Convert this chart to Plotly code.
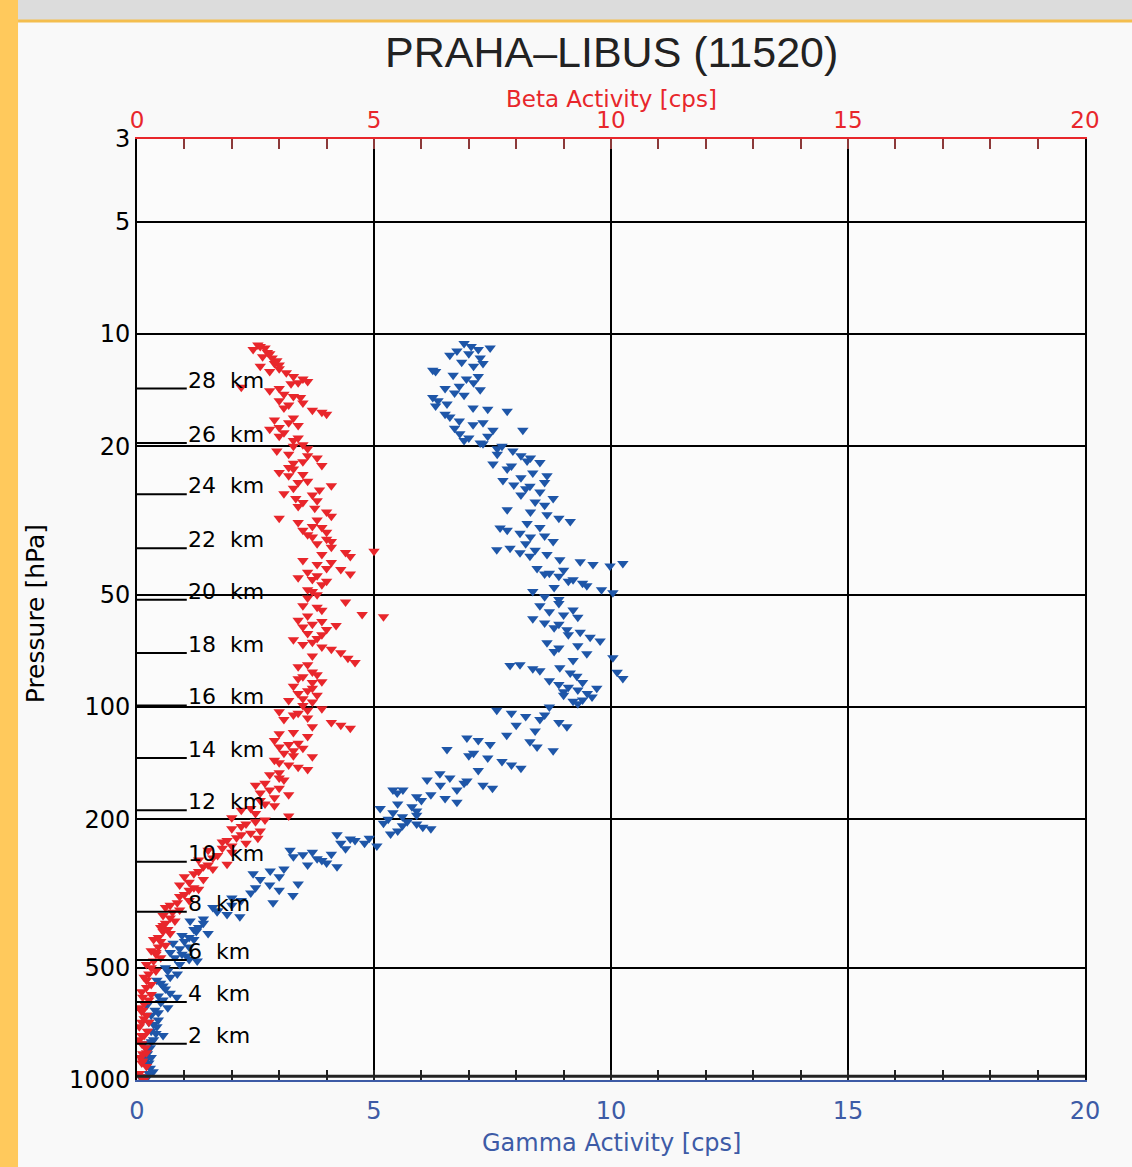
import math
import plotly.graph_objects as go

# ---------------- data ----------------
gamma_pressure = [
    10.6, 10.8, 10.9, 11.1, 11.3, 11.6, 11.9, 12.2, 12.5, 12.6,
    12.9, 13.2, 13.5, 13.8, 14.1, 14.4, 14.8, 15.1, 15.4, 15.6,
    15.8, 15.9, 16.1, 16.7, 17.1, 17.5, 17.9, 18.1, 18.1, 18.5,
    19.0, 19.6, 19.7, 20.3, 20.6, 21.2, 21.9, 22.1, 22.3, 23.0,
    23.6, 24.0, 24.7, 25.4, 25.6, 26.5, 27.6, 28.2, 29.6, 30.5,
    31.2, 31.8, 32.2, 33.1, 33.6, 34.2, 35.0, 36.0, 37.9, 37.5,
    38.6, 39.4, 39.0, 40.3, 40.8, 41.5, 41.9, 41.2, 42.5, 43.8,
    44.6, 45.6, 46.6, 47.3, 48.5, 49.4, 49.0, 50.6, 52.8, 54.9,
    56.7, 58.0, 59.5, 61.3, 62.1, 63.0, 65.0, 66.5, 67.3, 69.5,
    72.0, 73.8, 77.4, 77.0, 79.0, 80.0, 78.5, 81.0, 82.7, 80.7,
    83.8, 85.0, 87.0, 88.5, 90.0, 92.0, 94.0, 95.8, 96.5, 91.0,
    102, 104, 106, 108, 110, 113, 121, 123, 126, 124,
    128, 130, 133, 137, 140, 143, 146, 131, 151, 155,
    158, 162, 165, 157, 162, 167, 167, 167, 170, 172,
    176, 180, 187, 192, 197, 203, 206, 210, 215, 219,
    220, 226, 232, 236, 240, 242, 249, 255, 262, 268,
    275, 285, 280, 290, 300, 310, 320, 335, 345, 352,
    360, 365, 375, 390, 405, 430, 445, 465, 480, 540,
    560, 585, 600, 630, 670, 720, 760, 800, 880, 950,
    410, 425, 455, 500, 520, 620, 650, 700, 740, 780,
    820, 860, 900, 980, 1000, 330, 340, 315, 298, 258,
    195, 200, 225, 212, 205, 185, 178, 232, 248, 265,
    354, 370, 395, 415, 470, 510, 550, 690, 850, 930,
    11.0, 11.4, 12.0, 13.0, 14.0, 14.6, 16.4, 17.3, 18.8, 19.3,
    20.0, 21.0, 21.5, 22.6, 24.3, 25.0, 26.0, 27.0, 28.8, 30.0,
    33.0, 34.8, 36.5, 38.0, 43.0, 44.0, 46.0, 47.8, 51.5, 53.5,
    55.5, 57.5, 60.0, 64.0, 68.5, 71.0, 75.0, 86.0, 89.0, 93.0,
    98.0, 100, 105, 112, 116, 119, 135, 148, 160, 174,
    182, 190, 208, 228, 245, 252, 272, 305, 325, 380,
    400, 420, 440, 460, 490, 530, 570, 610, 660, 710,
    750, 790, 830, 870, 910, 960, 990, 640, 595, 475,
]
gamma_cps = [
    6.90, 7.05, 7.45, 6.75, 7.00, 7.24, 6.85, 7.10, 6.24, 6.30,
    6.67, 6.95, 7.10, 6.80, 7.24, 6.70, 6.24, 6.35, 6.54, 6.30,
    7.09, 7.40, 7.81, 6.60, 6.80, 7.09, 6.70, 7.51, 8.14, 6.81,
    7.00, 7.24, 7.30, 7.60, 7.93, 8.10, 8.23, 8.50, 7.51, 7.81,
    8.35, 8.65, 7.72, 7.95, 8.29, 8.50, 8.78, 8.40, 7.81, 8.65,
    8.90, 9.14, 8.23, 7.66, 7.81, 8.08, 8.30, 8.78, 7.59, 7.87,
    8.08, 8.29, 8.65, 8.92, 9.35, 9.62, 9.98, 10.25, 8.44, 8.70,
    8.90, 9.20, 9.40, 9.49, 9.80, 10.04, 8.35, 8.60, 8.90, 9.20,
    9.00, 8.35, 8.60, 8.80, 9.07, 9.35, 9.56, 9.77, 8.65, 8.90,
    9.49, 10.04, 7.87, 8.08, 8.35, 8.50, 8.92, 9.14, 9.28, 10.13,
    10.25, 8.70, 8.90, 9.10, 9.30, 9.50, 9.60, 9.40, 9.20, 9.00,
    7.59, 7.90, 8.20, 8.50, 8.90, 9.07, 6.96, 7.20, 7.45, 8.29,
    8.44, 6.54, 7.10, 7.40, 7.70, 7.90, 8.10, 8.78, 6.39, 6.60,
    6.96, 7.30, 7.50, 6.12, 6.40, 6.75, 5.40, 5.61, 5.49, 6.20,
    6.50, 6.75, 5.13, 5.40, 5.60, 5.70, 5.90, 6.03, 5.50, 5.35,
    4.22, 4.50, 4.80, 5.06, 4.40, 3.23, 3.50, 3.80, 4.00, 4.22,
    2.81, 3.00, 2.45, 2.60, 2.80, 3.00, 3.29, 2.87, 1.60, 1.70,
    1.90, 2.17, 1.12, 1.30, 1.50, 0.76, 0.90, 1.05, 1.27, 0.42,
    0.55, 0.70, 0.84, 0.21, 0.30, 0.42, 0.55, 0.13, 0.20, 0.34,
    0.95, 1.00, 0.70, 0.60, 0.85, 0.50, 0.38, 0.25, 0.30, 0.35,
    0.28, 0.15, 0.25, 0.18, 0.12, 2.20, 2.00, 2.40, 3.40, 3.90,
    5.90, 5.30, 4.90, 6.20, 5.20, 5.80, 6.00, 4.30, 4.10, 3.60,
    1.69, 1.40, 1.20, 1.10, 0.80, 0.65, 0.50, 0.45, 0.22, 0.28,
    7.20, 6.60, 7.30, 7.20, 6.50, 6.90, 6.50, 7.30, 7.40, 6.90,
    7.70, 7.60, 8.30, 7.90, 8.10, 8.60, 8.20, 8.10, 8.60, 8.30,
    8.50, 8.60, 8.20, 8.40, 9.00, 8.60, 9.10, 8.80, 8.90, 8.50,
    8.70, 9.30, 8.90, 9.10, 9.30, 8.80, 9.20, 9.40, 9.70, 9.00,
    9.30, 8.70, 8.60, 8.00, 8.40, 7.80, 7.00, 7.20, 6.90, 5.90,
    5.50, 5.90, 5.60, 4.60, 3.70, 3.30, 3.10, 2.50, 2.00, 1.40,
    1.25, 1.20, 1.10, 0.95, 0.90, 0.70, 0.60, 0.55, 0.45, 0.35,
    0.40, 0.30, 0.22, 0.30, 0.20, 0.25, 0.20, 0.65, 0.45, 1.10,
]

beta_pressure = [
    10.7, 10.9, 11.0, 11.3, 11.5, 11.8, 12.0, 12.4, 12.7, 13.0,
    13.2, 13.4, 13.6, 13.9, 14.2, 14.5, 14.8, 15.1, 16.0, 16.2,
    16.4, 17.0, 17.3, 17.6, 18.0, 18.4, 19.3, 19.8, 20.3, 20.6,
    21.0, 21.5, 22.0, 22.5, 23.0, 23.5, 24.0, 24.8, 25.5, 26.2,
    26.8, 27.6, 28.3, 29.3, 30.0, 30.8, 31.2, 32.0, 32.8, 33.6,
    34.5, 35.5, 36.5, 37.3, 38.5, 38.2, 39.5, 40.5, 41.5, 42.5,
    43.5, 42.8, 44.0, 45.5, 47.0, 48.5, 50.0, 52.3, 53.5, 55.0,
    56.5, 57.3, 58.5, 60.0, 62.0, 63.5, 65.5, 68.0, 70.0, 71.5,
    74.0, 76.0, 78.0, 80.5, 83.0, 85.5, 88.0, 90.5, 93.0, 96.0,
    99, 101, 103, 105, 107, 110, 112, 114, 117, 120,
    123, 126, 129, 133, 136, 139, 143, 147, 152, 157,
    162, 167, 172, 178, 184, 189, 193, 196, 201, 206,
    212, 218, 224, 230, 236, 242, 250, 257, 264, 272,
    280, 290, 300, 308, 318, 330, 340, 350, 362, 375,
    390, 405, 420, 435, 450, 470, 490, 510, 530, 555,
    580, 610, 640, 670, 700, 740, 780, 820, 870, 920,
    960, 1000, 265, 285, 310, 345, 395, 440, 600, 700,
    12.2, 15.5, 18.8, 22.8, 27.0, 34.0, 45.0, 60.5, 66.0, 86.0,
    95.0, 108, 131, 150, 175, 198, 215, 245, 225, 232,
    380, 415, 460, 500, 540, 650, 760, 850, 900, 980,
    10.8, 11.2, 11.6, 12.1, 12.6, 13.5, 14.0, 14.7, 15.3, 15.8,
    16.8, 17.8, 19.0, 20.0, 21.2, 22.2, 23.8, 25.0, 25.9, 28.0,
    29.0, 31.5, 33.0, 35.0, 36.0, 39.0, 41.0, 44.5, 46.0, 49.0,
    51.0, 54.0, 57.0, 59.0, 61.0, 64.0, 67.0, 69.0, 73.0, 77.0,
    82.0, 84.0, 89.0, 92.0, 97.0, 102, 104, 113, 118, 125,
    128, 135, 141, 145, 155, 160, 165, 170, 182, 187,
    203, 209, 220, 228, 239, 254, 268, 276, 295, 305,
    322, 335, 355, 368, 385, 400, 425, 455, 480, 520,
    565, 590, 625, 655, 685, 720, 760, 800, 845, 890,
]
beta_cps = [
    2.55, 2.70, 2.45, 2.80, 2.65, 2.95, 2.90, 3.00, 3.15, 3.30,
    3.50, 3.60, 3.25, 2.20, 2.80, 3.10, 3.45, 3.00, 3.70, 3.90,
    4.00, 2.90, 3.20, 3.40, 2.80, 3.10, 3.30, 3.50, 3.60, 2.95,
    3.20, 3.80, 3.50, 3.90, 3.30, 3.00, 3.20, 3.60, 4.10, 3.85,
    3.10, 3.35, 3.50, 3.75, 4.00, 4.10, 3.00, 3.40, 3.70, 3.50,
    3.60, 4.00, 3.80, 4.10, 4.40, 5.00, 4.50, 3.50, 3.80, 4.00,
    3.60, 4.30, 4.50, 3.70, 3.90, 3.60, 3.80, 4.40, 3.50, 3.90,
    4.75, 5.20, 3.40, 3.70, 4.00, 3.60, 3.80, 3.50, 4.10, 4.30,
    4.45, 4.60, 3.40, 3.70, 3.50, 3.90, 3.30, 3.60, 3.80, 3.20,
    3.50, 3.90, 3.00, 3.30, 3.60, 4.10, 4.30, 4.50, 3.30, 3.60,
    2.90, 3.20, 3.50, 3.10, 3.70, 2.90, 3.20, 3.60, 2.80, 3.10,
    2.50, 2.80, 3.20, 2.60, 2.90, 2.20, 2.50, 3.20, 2.70, 2.30,
    2.00, 2.40, 2.10, 1.80, 2.00, 1.50, 1.70, 1.30, 1.90, 1.60,
    1.20, 1.40, 0.90, 1.30, 1.00, 1.10, 0.70, 0.90, 0.55, 0.80,
    0.50, 0.70, 0.35, 0.60, 0.30, 0.50, 0.20, 0.40, 0.15, 0.30,
    0.10, 0.25, 0.05, 0.20, 0.10, 0.22, 0.05, 0.18, 0.08, 0.20,
    0.05, 0.15, 1.50, 1.00, 1.10, 0.60, 0.65, 0.45, 0.12, 0.25,
    2.60, 3.20, 3.00, 3.20, 3.70, 4.00, 3.40, 4.20, 3.30, 3.70,
    3.50, 3.10, 3.30, 3.00, 2.90, 2.00, 2.60, 2.00, 2.55, 2.30,
    0.60, 0.45, 0.40, 0.30, 0.20, 0.12, 0.10, 0.12, 0.10, 0.08,
    2.60, 2.75, 2.85, 3.00, 2.80, 3.40, 3.00, 3.30, 3.50, 3.10,
    3.30, 3.00, 3.40, 3.30, 3.60, 3.30, 3.50, 3.40, 3.30, 3.80,
    3.40, 3.80, 3.90, 3.70, 4.10, 3.90, 4.10, 3.80, 4.00, 3.70,
    3.60, 3.80, 3.60, 3.90, 3.50, 3.90, 3.70, 3.90, 3.70, 3.60,
    3.80, 3.40, 3.70, 3.40, 3.70, 3.60, 3.40, 3.70, 3.00, 3.40,
    3.00, 3.30, 3.00, 3.40, 3.00, 2.70, 3.00, 2.60, 2.70, 2.40,
    2.50, 2.20, 2.20, 1.90, 1.80, 1.60, 1.40, 1.30, 1.10, 1.20,
    0.90, 0.85, 0.75, 0.70, 0.55, 0.55, 0.50, 0.40, 0.35, 0.25,
    0.20, 0.30, 0.15, 0.10, 0.15, 0.05, 0.15, 0.10, 0.20, 0.12,
]

km_labels = ["2 km", "4 km", "6 km", "8 km", "10 km", "12 km", "14 km",
             "16 km", "18 km", "20 km", "22 km", "24 km", "26 km", "28 km"]
km_pressure = [800, 618, 477, 354, 260, 189, 137, 99, 71.7, 51.6, 37.5, 26.9, 19.6, 14.0]

pressure_ticks = [3, 5, 10, 20, 50, 100, 200, 500, 1000]

title_text = "PRAHA\u2013LIBUS (11520)"
beta_title = "Beta Activity [cps]"
gamma_title = "Gamma Activity [cps]"
y_title = "Pressure [hPa]"

# ---------------- styles ----------------
RED = "#E8262B"
BLUE = "#1E56A8"
AXBLUE = "#3D5BA6"
TICKFONT = "DejaVu Sans"

fig = go.Figure()
fig.add_trace(go.Scatter(
    x=gamma_cps, y=gamma_pressure, mode="markers", xaxis="x", yaxis="y",
    marker=dict(symbol="triangle-down", size=10, color=BLUE, line=dict(width=0)),
    showlegend=False, hoverinfo="skip"))
fig.add_trace(go.Scatter(
    x=beta_cps, y=beta_pressure, mode="markers", xaxis="x2", yaxis="y",
    marker=dict(symbol="triangle-down", size=10, color=RED, line=dict(width=0)),
    showlegend=False, hoverinfo="skip"))

shapes = []
# page decorations (paper coords relative to the plot area)
shapes.append(dict(type="rect", xref="paper", yref="paper", x0=-0.2, x1=-0.1255,
                   y0=-0.2, y1=1.2, fillcolor="#FFC95C", line=dict(width=0), layer="below"))
shapes.append(dict(type="rect", xref="paper", yref="paper", x0=-0.1255, x1=1.1,
                   y0=1.1265, y1=1.2, fillcolor="#DCDCDC", line=dict(width=0), layer="below"))
shapes.append(dict(type="line", xref="paper", yref="paper", x0=-0.1255, x1=1.1,
                   y0=1.1255, y1=1.1255, line=dict(color="#F4BE4E", width=3)))
# bottom black frame line just above the blue axis line
shapes.append(dict(type="line", xref="paper", yref="paper", x0=0, x1=1, y0=0.004, y1=0.004,
                   line=dict(color="#222", width=3)))
# km marker lines
for p in km_pressure:
    shapes.append(dict(type="line", xref="x", yref="y", x0=0, x1=1.05, y0=p, y1=p,
                       line=dict(color="black", width=2)))

annotations = []
for lab, p in zip(km_labels, km_pressure):
    num, unit = lab.split(" ")
    annotations.append(dict(x=1.03, y=math.log10(p), xref="x", yref="y",
                            text=num + "\u00a0\u00a0" + unit, showarrow=False,
                            xanchor="left", yanchor="bottom", yshift=-6,
                            font=dict(family=TICKFONT, size=22, color="black")))
annotations.append(dict(x=0.5, y=1.0925, xref="paper", yref="paper", text=title_text,
                        showarrow=False, xanchor="center", yanchor="middle",
                        font=dict(family="Liberation Sans, Arial", size=43, color="#222")))
annotations.append(dict(x=0.5, y=1.043, xref="paper", yref="paper", text=beta_title,
                        showarrow=False, xanchor="center", yanchor="middle",
                        font=dict(family=TICKFONT, size=23, color=RED)))
annotations.append(dict(x=0.5, y=-0.067, xref="paper", yref="paper", text=gamma_title,
                        showarrow=False, xanchor="center", yanchor="middle",
                        font=dict(family=TICKFONT, size=24, color=AXBLUE)))
annotations.append(dict(x=-0.1076, y=0.496, xref="paper", yref="paper", text=y_title,
                        showarrow=False, xanchor="center", yanchor="middle", textangle=-90,
                        font=dict(family=TICKFONT, size=25, color="black")))

fig.update_layout(
    width=1132, height=1167,
    margin=dict(l=137, r=47, t=139, b=87),
    paper_bgcolor="#F9F9F9", plot_bgcolor="#FBFBFB",
    showlegend=False,
    xaxis=dict(range=[0, 20], anchor="y", side="bottom",
               tickmode="linear", tick0=0, dtick=5,
               tickfont=dict(family=TICKFONT, size=24, color=AXBLUE),
               ticklabelstandoff=8,
               showgrid=True, gridcolor="black", gridwidth=2,
               showline=True, linecolor=AXBLUE, linewidth=2,
               ticks="inside", ticklen=10, tickcolor="#222", tickwidth=2,
               minor=dict(dtick=1, ticks="inside", ticklen=10, tickcolor="#222",
                          tickwidth=2, showgrid=False),
               zeroline=False, fixedrange=True),
    xaxis2=dict(range=[0, 20], overlaying="x", anchor="y", side="top",
                tickmode="linear", tick0=0, dtick=5,
                tickfont=dict(family=TICKFONT, size=23, color=RED),
                showgrid=False,
                showline=True, linecolor=RED, linewidth=2,
                ticks="inside", ticklen=10, tickcolor="#8B3A3A", tickwidth=2,
                minor=dict(dtick=1, ticks="inside", ticklen=10, tickcolor="#8B3A3A",
                           tickwidth=2, showgrid=False),
                zeroline=False, fixedrange=True),
    yaxis=dict(type="log", range=[math.log10(1000), math.log10(3)],
               tickmode="array", tickvals=pressure_ticks,
               ticktext=[str(v) for v in pressure_ticks],
               tickfont=dict(family=TICKFONT, size=24, color="black"),
               showgrid=True, gridcolor="black", gridwidth=2,
               showline=True, linecolor="black", linewidth=2, mirror=True,
               ticks="", zeroline=False, fixedrange=True),
    shapes=shapes,
    annotations=annotations,
)

# remove the default 8 px page margin so the figure fills the window exactly
fig.write_html("out.html",
               config={"displayModeBar": False},
               post_script="document.body.style.margin='0px';document.body.style.overflow='hidden';")
